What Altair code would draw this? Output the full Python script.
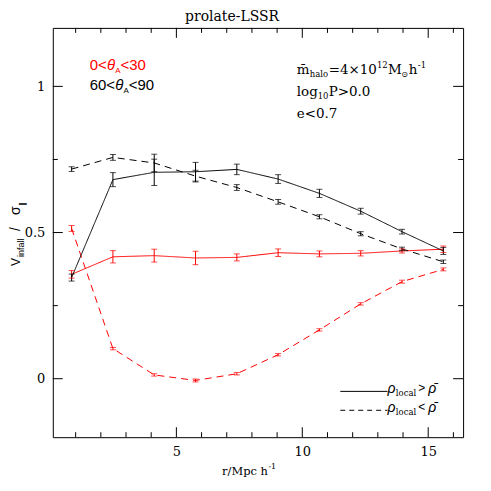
import altair as alt
import pandas as pd

# ---------------- data ----------------
r_mpc = [0.84, 2.48, 4.12, 5.76, 7.40, 9.04, 10.68, 12.32, 13.96, 15.60]

red_high = [0.357, 0.417, 0.421, 0.413, 0.415, 0.431, 0.427, 0.429, 0.437, 0.443]
red_high_err = [0.013, 0.021, 0.022, 0.023, 0.012, 0.013, 0.010, 0.009, 0.007, 0.011]
red_low = [0.514, 0.103, 0.013, -0.006, 0.017, 0.082, 0.167, 0.256, 0.332, 0.374]
red_low_err = [0.010, 0.004, 0.004, 0.005, 0.004, 0.004, 0.004, 0.004, 0.005, 0.005]
black_high = [0.346, 0.681, 0.706, 0.708, 0.716, 0.683, 0.634, 0.573, 0.503, 0.437]
black_high_err = [0.012, 0.024, 0.045, 0.032, 0.018, 0.015, 0.014, 0.010, 0.008, 0.012]
black_low = [0.717, 0.757, 0.738, 0.693, 0.654, 0.605, 0.554, 0.496, 0.444, 0.400]
black_low_err = [0.008, 0.010, 0.030, 0.020, 0.010, 0.008, 0.007, 0.007, 0.006, 0.006]

x_major = [5, 10, 15]
x_minor = [1, 2, 3, 4, 6, 7, 8, 9, 11, 12, 13, 14, 16]
y_major = [0, 0.5, 1]
y_minor = [0.25, 0.75]

W, H = 412, 411
X_DOM = [0.093, 16.385]
Y_DOM = [-0.2, 1.2]
SERIF = "DejaVu Serif"
SANS = "Liberation Sans"
RED = "#ff0000"

rows = []
for grp, dens, vals, errs in [
    ("red", "high", red_high, red_high_err),
    ("red", "low", red_low, red_low_err),
    ("black", "high", black_high, black_high_err),
    ("black", "low", black_low, black_low_err),
]:
    for r, v, e in zip(r_mpc, vals, errs):
        rows.append(dict(r=r, v=v, lo=v - e, hi=v + e, grp=grp, dens=dens,
                         series=grp + "_" + dens))
df = pd.DataFrame(rows)

xs = alt.Scale(domain=X_DOM, nice=False, zero=False)
ys = alt.Scale(domain=Y_DOM, nice=False, zero=False)
col = alt.Scale(domain=["red", "black"], range=[RED, "#000000"])
dash = alt.Scale(domain=["high", "low"], range=[[1, 0], [7, 5]])

XAX = alt.Axis(values=x_major, labelPadding=8, title=None)
YAX = alt.Axis(values=y_major, format="~g", labelPadding=8, title=None)

def X(field):
    return alt.X(field, scale=xs, axis=XAX, title=None)

def Y(field):
    return alt.Y(field, scale=ys, axis=YAX, title=None)

base = alt.Chart(df)
lines = base.mark_line(strokeWidth=1).encode(
    x=X("r:Q"), y=Y("v:Q"),
    color=alt.Color("grp:N", scale=col, legend=None),
    strokeDash=alt.StrokeDash("dens:N", scale=dash, legend=None),
    detail="series:N",
)
bars = base.mark_rule(strokeWidth=1).encode(
    x=X("r:Q"), y=Y("lo:Q"), y2="hi:Q",
    color=alt.Color("grp:N", scale=col, legend=None),
)
cap_lo = base.mark_tick(orient="horizontal", size=6, thickness=1).encode(
    x=X("r:Q"), y=Y("lo:Q"),
    color=alt.Color("grp:N", scale=col, legend=None),
)
cap_hi = base.mark_tick(orient="horizontal", size=6, thickness=1).encode(
    x=X("r:Q"), y=Y("hi:Q"),
    color=alt.Color("grp:N", scale=col, legend=None),
)

# inward frame ticks
def xticks(vals, length):
    d = alt.Chart(pd.DataFrame({"t": vals}))
    bot = d.mark_rule(color="black", strokeWidth=1).encode(
        x=X("t:Q"), y=alt.value(H), y2=alt.value(H - length))
    top = d.mark_rule(color="black", strokeWidth=1).encode(
        x=X("t:Q"), y=alt.value(0), y2=alt.value(length))
    return [bot, top]

def yticks(vals, length):
    d = alt.Chart(pd.DataFrame({"t": vals}))
    lft = d.mark_rule(color="black", strokeWidth=1).encode(
        y=Y("t:Q"), x=alt.value(0), x2=alt.value(length))
    rgt = d.mark_rule(color="black", strokeWidth=1).encode(
        y=Y("t:Q"), x=alt.value(W), x2=alt.value(W - length))
    return [lft, rgt]

ticks = xticks(x_major, 10) + xticks(x_minor, 5) + yticks(y_major, 10) + yticks(y_minor, 5)

one = pd.DataFrame({"a": [0]})

def txt(s, x, y, size, font, color="black", style="normal", angle=0, align="left"):
    return alt.Chart(one).mark_text(
        align=align, baseline="alphabetic", font=font, fontSize=size,
        color=color, fontStyle=style, angle=angle,
    ).encode(x=alt.value(x), y=alt.value(y), text=alt.value(s))

texts = [
    # title
    txt("prolate-LSSR", 180, -7, 14, SERIF, align="center"),
    # top-left legend
    txt("0<", 37, 42, 15, SANS, RED),
    txt("θ", 54.3, 42, 15, SANS, RED, "italic"),
    txt("A", 62.6, 45, 8, SANS, RED),
    txt("<30", 68, 42, 15, SANS, RED),
    txt("60<", 37, 62, 15, SANS),
    txt("θ", 62.6, 62, 15, SANS, style="italic"),
    txt("A", 70.9, 65, 8, SANS),
    txt("<90", 76.3, 62, 15, SANS),
    # top-right annotation
    txt("m\u0304", 245, 46, 13.5, SERIF),
    txt("halo", 258, 49, 8.5, SERIF),
    txt("=4×10", 277, 46, 13.5, SERIF),
    txt("12", 325.5, 40, 8.5, SERIF),
    txt("M", 336.5, 46, 13.5, SERIF),
    txt("⊙", 350, 49, 8.5, SERIF),
    txt("h", 357.5, 46, 13.5, SERIF),
    txt("-1", 366.5, 40, 8.5, SERIF),
    txt("log", 245, 68, 13.5, SERIF),
    txt("10", 266, 71.5, 8.5, SERIF),
    txt("P>0.0", 277, 68, 13.5, SERIF),
    txt("e<0.7", 245, 90, 13.5, SERIF),
    # bottom-right legend text
    txt("ρ", 336, 367, 14, SANS, style="italic"),
    txt("local", 344.5, 370, 8.5, SERIF),
    txt(">", 367, 366, 12, SANS),
    txt("ρ\u0304", 377, 367, 14, SANS, style="italic"),
    txt("ρ", 336, 386, 14, SANS, style="italic"),
    txt("local", 344.5, 389, 8.5, SERIF),
    txt("<", 367, 385, 12, SANS),
    txt("ρ\u0304", 377, 386, 14, SANS, style="italic"),
    # x axis title
    txt("r/Mpc h", 170, 449, 11.5, SERIF),
    txt("-1", 216.5, 443, 8, SERIF),
    # y axis title (rotated)
    txt("V", -33, 239, 12, SANS, angle=270),
    txt("infall", -29, 230, 9, SANS, angle=270),
    txt("/", -33, 204, 14, SANS, angle=270),
    txt("σ", -33, 188, 14, SANS, angle=270),
    txt("∥", -28, 179, 8, SANS, angle=270),
]

legend_lines = [
    alt.Chart(one).mark_rule(color="black", strokeWidth=1).encode(
        x=alt.value(288.7), x2=alt.value(336), y=alt.value(365)),
    alt.Chart(one).mark_rule(color="black", strokeWidth=1, strokeDash=[5, 4]).encode(
        x=alt.value(288.7), x2=alt.value(336), y=alt.value(384)),
]

chart = alt.layer(lines, bars, cap_lo, cap_hi, *ticks, *legend_lines, *texts).properties(
    width=W, height=H,
    autosize=alt.AutoSizeParams(type="none"),
    padding={"left": 45, "top": 19, "right": 20, "bottom": 40},
    background="white",
).configure_view(stroke="black", strokeWidth=1).configure_axis(
    domain=False, ticks=False, tickSize=0, grid=False,
    labelFont=SERIF, labelFontSize=13, labelColor="black",
)

chart.save("out.html", embed_options={"renderer": "svg", "actions": False})
